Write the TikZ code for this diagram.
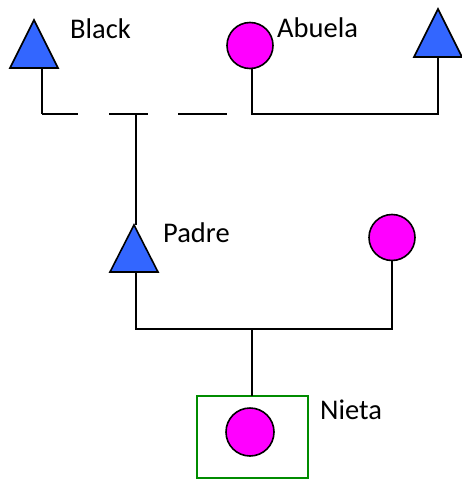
\documentclass[tikz,border=0pt]{standalone}
\usepackage{fontspec}
\setmainfont{Carlito}
\definecolor{triblue}{RGB}{51,102,255}
\definecolor{femmag}{RGB}{255,0,255}
\definecolor{boxgreen}{RGB}{0,140,0}
\begin{document}
\begin{tikzpicture}[x=1pt,y=-1pt,
  tri/.style={fill=triblue,draw=black,line width=1.6pt,line join=miter},
  fem/.style={circle,fill=femmag,draw=black,line width=1.6pt,minimum size=46pt,inner sep=0pt},
  link/.style={draw=black,line width=2pt},
  lbl/.style={anchor=base west,inner sep=0pt,font=\fontsize{28.5}{34}\selectfont},
  probox/.style={draw=boxgreen,line width=2pt}]
\useasboundingbox (0,0) rectangle (461,479);
% grandparents
\filldraw[tri] (10,68) -- (58,68) -- (34,20) -- cycle;
\coordinate (gfL) at (42,68);
\node[fem] (gm) at (250,45.5) {};
\filldraw[tri] (414,57) -- (462,57) -- (438,9) -- cycle;
\coordinate (gfR) at (438,57);
\node[lbl] (tBlack) at (70,38) {Black};
\node[lbl] (tAbuela) at (277,37) {Abuela};
% padre generation
\filldraw[tri] (110,272) -- (158,272) -- (134,225) -- cycle;
\coordinate (paTop) at (136,225);
\coordinate (paBot) at (136,272);
\node[fem] (mo) at (392,237.5) {};
\node[lbl] (tPadre) at (163,242) {Padre};
% nieta
\coordinate (boxTop) at (252,396);
\draw[probox] (197,396) rectangle (308,478);
\node[fem,minimum size=48pt] (ni) at (250,432) {};
\node[lbl] (tNieta) at (320,419) {Nieta};
% connectors
\coordinate (hl) at (42,114);
\coordinate (hr) at (227,114);
\coordinate (pt) at (136,114);
\coordinate (sib) at (252,329);
\draw[link] (gfL) -- (hl);
\draw[link,dash pattern=on 36pt off 31pt on 39pt off 30pt on 49pt off 30pt] (hl) -- (hr);
\draw[link] (pt) -- (paTop);
\draw[link] (gm.south -| sib) |- (hl -| gfR) -- (gfR);
\draw[link] (paBot) |- (sib) -| (mo.south);
\draw[link] (sib) -- (boxTop);
\end{tikzpicture}
\end{document}
